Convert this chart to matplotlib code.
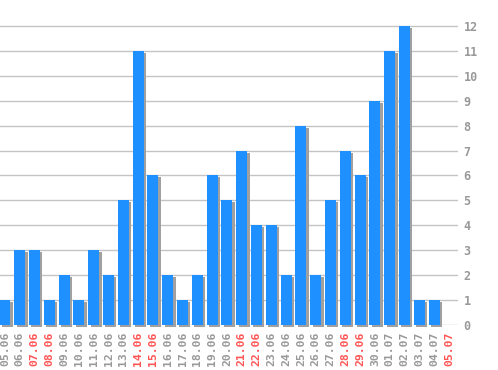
import matplotlib.pyplot as plt
import matplotlib.transforms as mtransforms

# Data
dates = ['05.06', '06.06', '07.06', '08.06', '09.06', '10.06', '11.06', '12.06',
         '13.06', '14.06', '15.06', '16.06', '17.06', '18.06', '19.06', '20.06',
         '21.06', '22.06', '23.06', '24.06', '25.06', '26.06', '27.06', '28.06',
         '29.06', '30.06', '01.07', '02.07', '03.07', '04.07', '05.07']
counts = [1, 3, 3, 1, 2, 1, 3, 2, 5, 11, 6, 2, 1, 2, 6, 5,
          7, 4, 4, 2, 8, 2, 5, 7, 6, 9, 11, 12, 1, 1, 0]
weekend = ['07.06', '08.06', '14.06', '15.06', '21.06', '22.06', '28.06', '29.06', '05.07']

fig = plt.figure(figsize=(4.98, 3.70), dpi=100)
ax = fig.add_axes([0, 45 / 370, 458 / 498, 325 / 370])

x = list(range(len(dates)))
xs = [i + 0.16 for i in x]
# shadow bars first
ax.bar(xs, counts, width=0.74, bottom=-0.08, color='#a0a0a0',
       zorder=2, clip_on=False)
ax.bar(x, counts, width=0.74, color='#1e90ff', zorder=3)

ax.set_xlim(-0.33, 30.61)
ax.set_ylim(0, 13.04)
ax.set_yticks(range(0, 13))
ax.yaxis.tick_right()
ax.grid(axis='y', color='#c4c4c4', linewidth=1, zorder=1)
ax.set_axisbelow(True)
for s in ax.spines.values():
    s.set_visible(False)

ax.set_xticks(x)
ax.set_xticklabels(dates, rotation=90, fontfamily='DejaVu Sans Mono',
                   fontweight='bold', fontsize=8.2)
shift = mtransforms.ScaledTranslation(2 / 100, 0, fig.dpi_scale_trans)
for lbl in ax.get_xticklabels():
    lbl.set_color('#ff5555' if lbl.get_text() in weekend else '#999999')
    lbl.set_transform(lbl.get_transform() + shift)
ax.tick_params(axis='x', length=0, pad=5)
ax.tick_params(axis='y', length=0, pad=4, labelcolor='#999999', labelsize=8.5)
for lbl in ax.get_yticklabels():
    lbl.set_fontfamily('DejaVu Sans Mono')
    lbl.set_fontweight('bold')

fig.savefig('out.png', dpi=100)
